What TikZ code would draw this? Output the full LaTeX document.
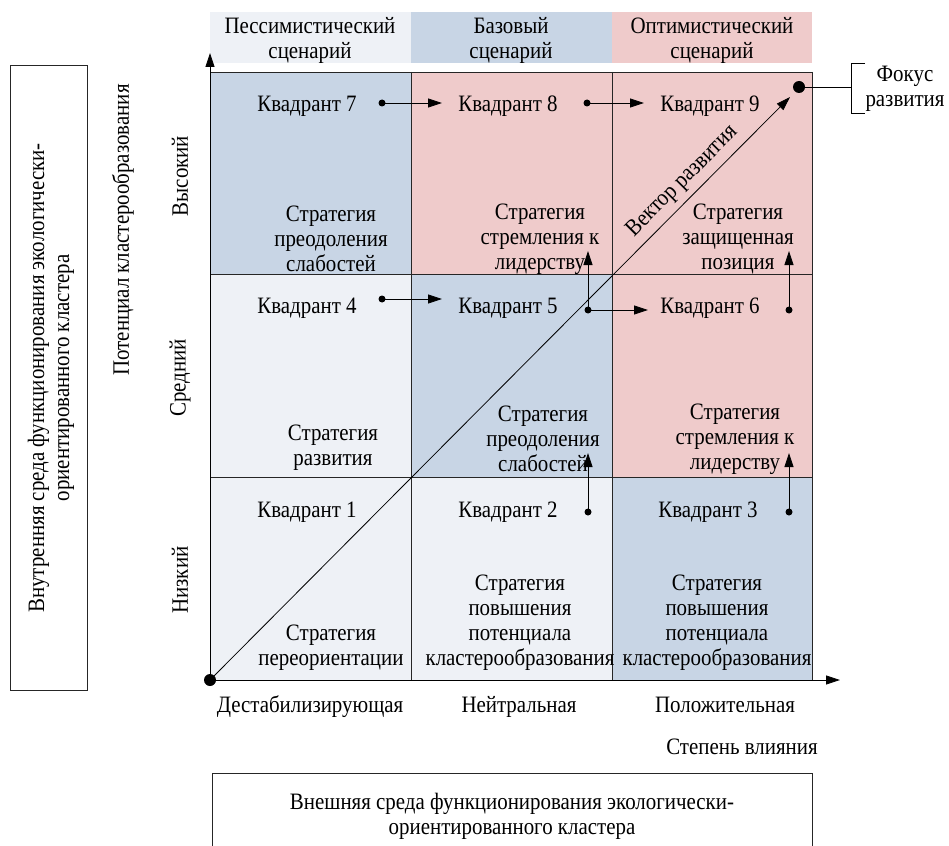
\documentclass[tikz,border=0pt]{standalone}
\usepackage{fontspec}
\setmainfont[FakeStretch=0.89]{Liberation Serif}
\usetikzlibrary{arrows.meta}
\definecolor{cLight}{HTML}{EEF1F6}
\definecolor{cBlue}{HTML}{C8D5E5}
\definecolor{cPink}{HTML}{EFCBCB}
\begin{document}
\begin{tikzpicture}[x=1pt,y=-1pt,
  txt/.style={font=\fontsize{23.5}{25}\selectfont, inner sep=0pt, align=center},
  bt/.style={txt, anchor=base},
  grid/.style={draw=black!85, line width=0.8pt},
  arr/.style={-{Triangle[length=14pt,width=9pt]}, line width=0.8pt},
  dotn/.style={circle, fill=black, inner sep=0pt, minimum size=7pt},
  bigdot/.style={circle, fill=black, inner sep=0pt, minimum size=12pt},
  frame/.style={draw=black!85, line width=0.8pt}]
\useasboundingbox (0,0) rectangle (949,845);
% header bands
\fill[cLight] (210,12) rectangle (411,63);
\fill[cBlue] (411,12) rectangle (612,63);
\fill[cPink] (612,12) rectangle (812,63);
\node[txt] (h1) at (310,40) {Пессимистический\\сценарий};
\node[txt] (h2) at (511,40) {Базовый\\сценарий};
\node[txt] (h3) at (712,40) {Оптимистический\\сценарий};
% cells
\fill[cBlue] (210,72) rectangle (411,274);
\fill[cPink] (411,72) rectangle (812,274);
\fill[cLight] (210,274) rectangle (411,477);
\fill[cBlue] (411,274) rectangle (612,477);
\fill[cPink] (612,274) rectangle (812,477);
\fill[cLight] (210,477) rectangle (612,680);
\fill[cBlue] (612,477) rectangle (812,680);
\draw[grid] (210,72) -- (812,72) (210,274) -- (812,274) (210,477) -- (812,477);
\draw[grid] (411,72) -- (411,680) (612,72) -- (612,680) (812,72) -- (812,680);
% axes
\coordinate (o) at (210,680);
\coordinate (ytip) at (210,53);
\coordinate (xtip) at (840,680);
\draw[arr] (o) -- (ytip);
\draw[arr] (o) -- (xtip);
% quadrant labels
\node[bt] (q7) at (307,112) {Квадрант 7};
\node[bt] (q8) at (508,112) {Квадрант 8};
\node[bt] (q9) at (710,112) {Квадрант 9};
\node[bt] (q4) at (307,313) {Квадрант 4};
\node[bt] (q5) at (508,313) {Квадрант 5};
\node[bt] (q6) at (710,313) {Квадрант 6};
\node[bt] (q1) at (307,517) {Квадрант 1};
\node[bt] (q2) at (508,517) {Квадрант 2};
\node[bt] (q3) at (708,517) {Квадрант 3};
% strategies
\node[txt] (s7) at (331,239) {Стратегия\\преодоления\\слабостей};
\node[txt] (s8) at (540,239) {Стратегия\\стремления к\\лидерству};
\node[txt] (s9) at (738,239) {Стратегия\\защищенная\\позиция};
\node[txt] (s4) at (333,448) {Стратегия\\развития};
\node[txt] (s5) at (543,439) {Стратегия\\преодоления\\слабостей};
\node[txt] (s6) at (735,439) {Стратегия\\стремления к\\лидерству};
\node[txt] (s1) at (331,648) {Стратегия\\переориентации};
\node[txt] (s2) at (520,623) {Стратегия\\повышения\\потенциала\\кластерообразования};
\node[txt] (s3) at (717,623) {Стратегия\\повышения\\потенциала\\кластерообразования};
% horizontal arrows
\node[dotn] (d7) at (382,103) {};
\coordinate (t7) at (442,103);
\draw[arr] (d7.center) -- (t7);
\node[dotn] (d8) at (587,103) {};
\coordinate (t8) at (644,103);
\draw[arr] (d8.center) -- (t8);
\node[dotn] (d4) at (382,299) {};
\coordinate (t4) at (442,299);
\draw[arr] (d4.center) -- (t4);
\node[dotn] (d5) at (588,310) {};
\coordinate (t5) at (648,310);
\coordinate (u5) at (588,251);
\draw[arr] (d5.center) -- (t5);
\draw[arr] (d5.center) -- (u5);
\node[dotn] (d6) at (789,310) {};
\coordinate (u6) at (789,251);
\draw[arr] (d6.center) -- (u6);
\node[dotn] (d2) at (588,512) {};
\coordinate (u2) at (588,453);
\draw[arr] (d2.center) -- (u2);
\node[dotn] (d3) at (789,512) {};
\coordinate (u3) at (789,453);
\draw[arr] (d3.center) -- (u3);
% vector
\node[bigdot] (od) at (o) {};
\node[bigdot] (fd) at (799,87) {};
\coordinate (vt) at (790,97);
\draw[arr] (od.center) -- node[sloped, above=6pt, pos=0.835, txt] (vl) {Вектор развития} (vt);
\coordinate (fb) at (851,87);
\draw[line width=0.8pt] (fd.center) -- (fb);
\draw[line width=0.8pt] (865,63) -- (851,63) -- (851,113) -- (865,113);
\node[txt] (focus) at (905,89) {Фокус\\развития};
% axis labels
\node[txt, rotate=90] (yh) at (180,176) {Высокий};
\node[txt, rotate=90] (ym) at (180,378) {Средний};
\node[txt, rotate=90] (yl) at (180,580) {Низкий};
\node[txt, rotate=90] (ya) at (123,230) {Потенциал кластерообразования};
\node[bt] (xd) at (310,712) {Дестабилизирующая};
\node[bt] (xn) at (519,712) {Нейтральная};
\node[bt] (xp) at (725,712) {Положительная};
\node[bt] (xa) at (742,754) {Степень влияния};
% side boxes
\draw[frame] (10,65) rectangle (87,690);
\node[txt, rotate=90] (inner) at (51,378) {Внутренняя среда функционирования экологически-\\ориентированного кластера};
\draw[frame] (212,852) -- (212,773) -- (812,773) -- (812,852);
\node[txt] (outer) at (512,816) {Внешняя среда функционирования экологически-\\ориентированного кластера};
\end{tikzpicture}
\end{document}
